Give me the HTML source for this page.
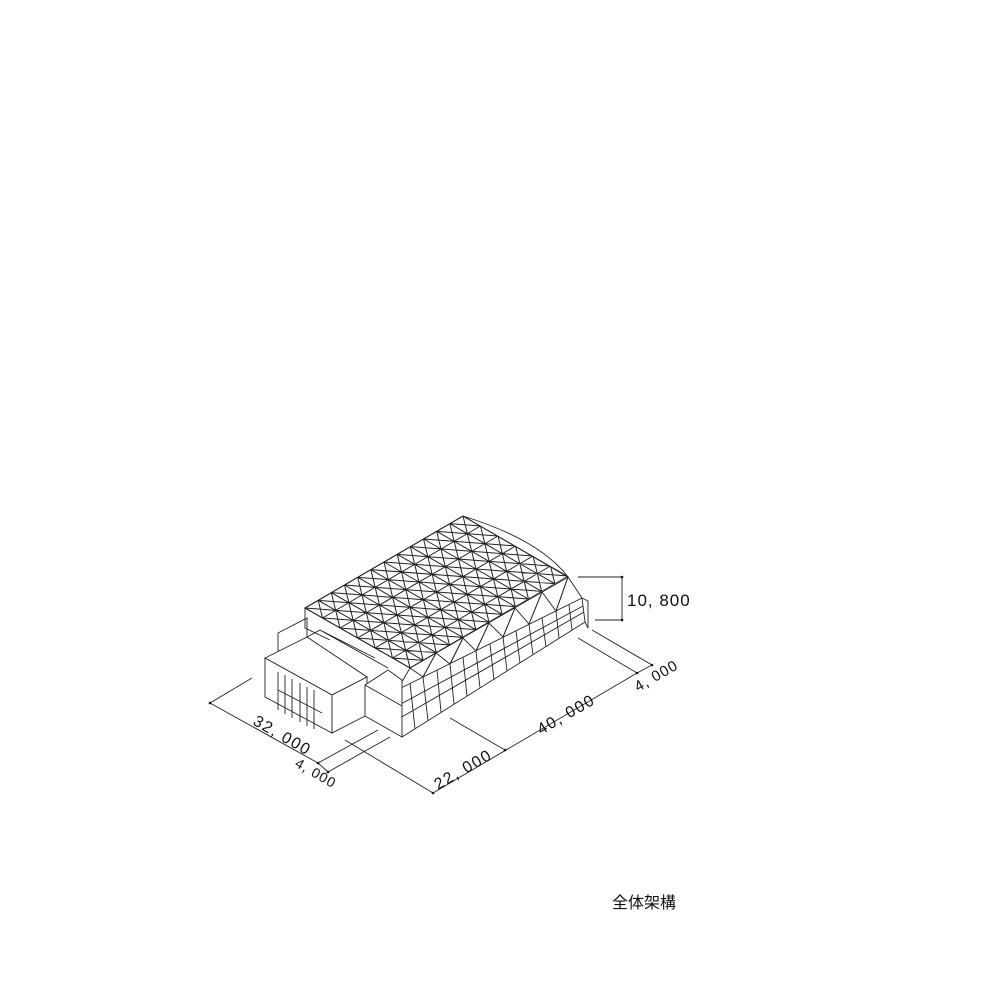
<!DOCTYPE html>
<html><head><meta charset="utf-8"><style>
html,body{margin:0;padding:0;background:#fff;}
svg{display:block}
text{font-family:"Liberation Sans","Noto Sans CJK JP",sans-serif;fill:#111}
</style></head><body>
<svg width="981" height="981" viewBox="0 0 981 981" xmlns="http://www.w3.org/2000/svg">
<defs><clipPath id="c"><rect x="0" y="0" width="12" height="6"/></clipPath></defs>
<g fill="none" stroke="#222" stroke-width="0.9">
<path d="M278 633 L307 618 L307 637 M278 633 V650 L297 660" fill="#fff"/>
<path d="M305 608 V628 L330 640"/>
<path d="M397 690 L582 598 M402 737 L585 622 M399 705 L583 606 M400 718 L584 612 M397 690 L402 737 M582 598 L585 622 M582 598 L588 601 L588 628 L585 622"/>
<path d="M397 690 L402 737 M410 683 L415 729 M423 677 L428 721 M437 670 L441 712 M450 664 L454 704 M463 657 L467 696 M476 651 L480 688 M490 644 L494 680 M503 637 L507 671 M516 631 L520 663 M529 624 L533 655 M542 618 L546 647 M556 611 L559 638 M569 605 L572 630"/>
<path d="M410 668 L397 690 M436 653 L423 677 M463 638 L450 664 M489 623 L476 651 M515 608 L503 637 M542 592 L529 624 M568 577 L556 611 M568 577 L582 598"/>
<path d="M410 668 L423 677 L436 653 L450 664 L463 638 L476 651 L489 623 L503 637 L515 608 L529 624 L542 592 L556 611 L568 577"/>
<path d="M265 658 L307 637 L367 677 L332 695 Z" fill="#fff"/>
<path d="M265 658 V697 L332 733 V695 Z" fill="#fff"/>
<path d="M332 695 L367 677 V715 L332 733 Z" fill="#fff"/>
<path d="M278 672 V710 M285 675 V714 M292 679 V718 M300 683 V722 M307 687 V726 M314 690 V729 M278 690 L322 713"/>
<path d="M365 685 L388 670 L402 680 L402 737 L365 716 Z" fill="#fff"/>
<path d="M365 685 L402 706"/>
<path d="M307 637 L320 630 L388 668 M320 630 L375 658"/>
<g transform="matrix(13.167,-7.667,17.5,10,305,608)" clip-path="url(#c)">
<rect x="0" y="0" width="12" height="6" fill="#fff" stroke="none"/>
<path vector-effect="non-scaling-stroke" stroke-width="1" d="M0 0V6M1 0V6M2 0V6M3 0V6M4 0V6M5 0V6M6 0V6M7 0V6M8 0V6M9 0V6M10 0V6M11 0V6M12 0V6
M0 0H12M0 1H12M0 2H12M0 3H12M0 4H12M0 5H12M0 6H12
M-6 0L0 6M-5 0L1 6M-4 0L2 6M-3 0L3 6M-2 0L4 6M-1 0L5 6M0 0L6 6M1 0L7 6M2 0L8 6M3 0L9 6M4 0L10 6M5 0L11 6M6 0L12 6M7 0L13 6M8 0L14 6M9 0L15 6M10 0L16 6M11 0L17 6
M1 0L-5 6M2 0L-4 6M3 0L-3 6M4 0L-2 6M5 0L-1 6M6 0L0 6M7 0L1 6M8 0L2 6M9 0L3 6M10 0L4 6M11 0L5 6M12 0L6 6M13 0L7 6M14 0L8 6M15 0L9 6M16 0L10 6M17 0L11 6M18 0L12 6"/>
</g>
<path d="M305 608 L463 516 L568 577 L410 668 Z" stroke-width="1.1"/>
<path d="M463 516 Q540 540 568 577" />
<path d="M252 678 L210 703 L318 763 M378 730 L318 763 M390 737 L328 772 M318 763 L328 772"/>
<path d="M345 740 L433 793 L637 673 L652 665 M450 718 L505 750 M578 638 L637 673 M592 630 L652 665"/>
<path d="M578 577 H622 V620 H595"/>
</g>
<g fill="#111">
<circle cx="210" cy="703" r="1.3"/><circle cx="318" cy="763" r="1.3"/><circle cx="328" cy="772" r="1.3"/>
<circle cx="433" cy="793" r="1.3"/><circle cx="505" cy="750" r="1.3"/><circle cx="637" cy="673" r="1.3"/><circle cx="652" cy="665" r="1.3"/>
<circle cx="622" cy="577" r="1.3"/><circle cx="622" cy="620" r="1.3"/>
</g>
<text x="627" y="606" font-size="17" letter-spacing="1">10, 800</text>
<text x="0" y="0" font-size="16" letter-spacing="1.5" transform="translate(252,724) rotate(30)">32, 000</text>
<text x="0" y="0" font-size="14" letter-spacing="1" transform="translate(294,766) rotate(30)">4, 000</text>
<text x="0" y="0" font-size="16" letter-spacing="1.5" transform="translate(438,790) rotate(-30)">22, 000</text>
<text x="0" y="0" font-size="16" letter-spacing="1.5" transform="translate(541,735) rotate(-30)">40, 000</text>
<text x="0" y="0" font-size="15" letter-spacing="1" transform="translate(638,692) rotate(-30)">4, 000</text>
<text x="612" y="908" font-size="16">全体架構</text>
</svg>
</body></html>
